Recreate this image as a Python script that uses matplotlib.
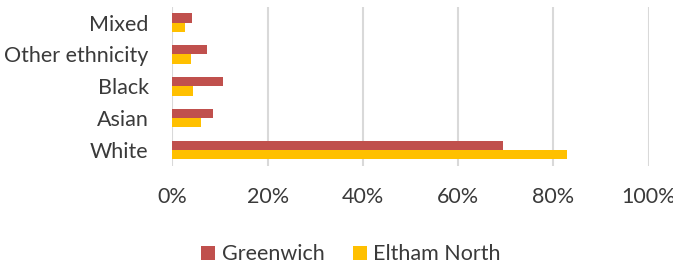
import matplotlib.pyplot as plt
import numpy as np
from matplotlib.ticker import PercentFormatter

# 数据
categories = ['White', 'Asian', 'Black', 'Other ethnicity', 'Mixed']
greenwich = [69.5, 8.5, 10.6, 7.3, 4.2]
eltham_north = [82.8, 6.1, 4.4, 4.0, 2.7]

plt.rcParams['font.family'] = ['Lato', 'DejaVu Sans']

fig = plt.figure(figsize=(6.73, 2.67), dpi=100)
ax = fig.add_axes([0.256, 0.378, 0.708, 0.597])

y = np.arange(len(categories))
h = 0.29
ax.barh(y + h / 2, greenwich, height=h, color='#C0504D', label='Greenwich', zorder=3)
ax.barh(y - h / 2, eltham_north, height=h, color='#FFC000', label='Eltham North', zorder=3)

ax.set_xlim(0, 100)
ax.set_ylim(-0.5, len(categories) - 0.5)
ax.set_xticks(range(0, 101, 20))
ax.xaxis.set_major_formatter(PercentFormatter(decimals=0))
ax.set_yticks(y)
ax.set_yticklabels(categories)
ax.grid(axis='x', color='#D9D9D9', linewidth=1.5, zorder=0)
for s in ax.spines.values():
    s.set_visible(False)
ax.tick_params(length=0, labelsize=15.5, colors='#3a3a3a')
ax.tick_params(axis='x', pad=15)
ax.tick_params(axis='y', pad=17)

fig.legend(loc='center', bbox_to_anchor=(0.5215, 0.047), ncol=2, frameon=False,
           fontsize=15.5, handlelength=0.65, handleheight=0.65, handletextpad=0.31,
           columnspacing=1.3, labelcolor='#3a3a3a')

fig.savefig('out.png', dpi=100)
